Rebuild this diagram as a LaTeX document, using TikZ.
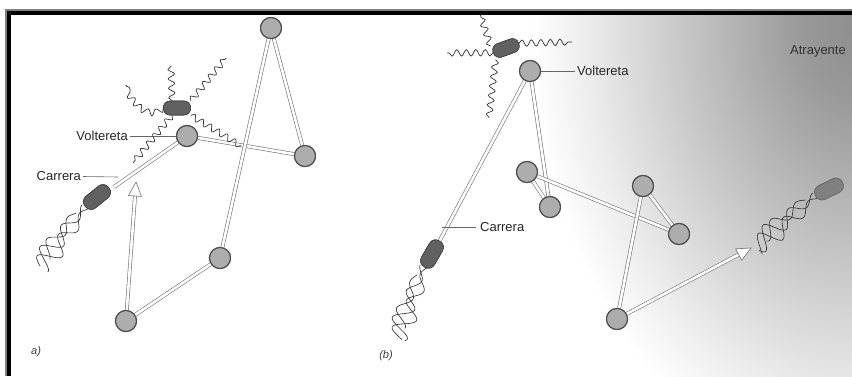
\documentclass[tikz,border=0pt]{standalone}
\usepackage{fontspec}
\setmainfont{Liberation Sans}
\usetikzlibrary{calc,decorations.pathmorphing}

% grey cloud of attractant, darkest at its source (edge of the shaded path = 25bp)
\pgfdeclareradialshading{attractant}{\pgfpoint{0bp}{0bp}}{%
  color(0bp)=(black!44); color(4bp)=(black!40); color(12bp)=(black!24);
  color(20bp)=(black!8); color(24.5bp)=(white); color(50bp)=(white)}

% twisted bundle of flagella: start x, start y, direction, length
\newcommand\flagbundle[4]{%
  \begin{scope}[shift={(#1,#2)}, rotate=#3]
    \draw[flag] plot[domain=0:#4, samples=90, smooth]
        (\x, {(3+0.12*\x)*sin(12*\x)-2});
    \draw[flag] plot[domain=0:#4, samples=90, smooth]
        (\x, {(3+0.12*\x)*sin(12*\x+110)+2.5});
    \draw[flag] plot[domain=10:{0.85*#4}, samples=70, smooth]
        (\x, {(2+0.1*\x)*sin(12*\x+230)+5});
  \end{scope}}

\begin{document}
\begin{tikzpicture}[x=1bp, y=-1bp,
  tube/.style={draw=black!55, line width=0.6bp, double=white, double distance=2.6bp},
  site/.style={circle, minimum size=21bp, inner sep=0pt, fill=black!32,
    draw=black!70, line width=1.1bp},
  body/.style={rectangle, rounded corners=6.5bp, minimum width=27bp,
    minimum height=14bp, inner sep=0pt, fill=black!62, draw=black!75, line width=0.6bp},
  runner/.style={body, minimum width=30bp, minimum height=15bp, rounded corners=7bp},
  wavy/.style={draw=black!80, line width=0.7bp, decorate,
    decoration={snake, amplitude=3.2bp, segment length=9.5bp}},
  flag/.style={draw=black!80, line width=0.65bp},
  lbl/.style={font=\fontsize{13bp}{15bp}\selectfont, text=black!85, inner sep=0pt},
  leader/.style={draw=black!60, line width=0.6bp},
  panel/.style={font=\fontsize{11bp}{13bp}\selectfont\itshape, text=black!75, inner sep=0pt},
  openhead/.style={draw=black!55, line width=0.6bp, fill=white, line join=miter}
]
\useasboundingbox (0,0) rectangle (852,376);
\fill[white] (0,0) rectangle (852,376);

% attractant gradient in panel (b)
\begin{scope}
  \clip (430,15) rectangle (852,376);
  \shade[shading=attractant] (855,25) ellipse [x radius=330bp, y radius=460bp];
\end{scope}

% frame
\draw[black!50, line width=2bp] (6,376) -- (6,10) -- (852,10);
\draw[black, line width=4bp] (9,376) -- (9,13) -- (852,13);

% ---------------- panel a: random walk ----------------
\coordinate (run1) at (114,187);
\coordinate (tipL) at (136,182);
\node[site] (A) at (271,28) {};
\node[site] (B) at (187,136) {};
\node[site] (C) at (305,156) {};
\node[site] (D) at (220,258) {};
\node[site] (E) at (126,321) {};
\coordinate (baseL) at ($(tipL)!14bp!(E)$);

\draw[tube] (run1) -- (B);
\draw[tube] (B) -- (C);
\draw[tube] (C) -- (A);
\draw[tube] (A) -- (D);
\draw[tube] (D) -- (E);
\draw[tube] (E) -- (baseL);
\draw[openhead] (tipL) -- ($(baseL)!6.5bp!90:(tipL)$) -- ($(baseL)!6.5bp!-90:(tipL)$) -- cycle;
\foreach \n in {A,B,C,D,E} \node[site] at (\n) {};

% labels of panel a
\node[lbl, anchor=east] (volt1) at (128,136) {Voltereta};
\draw[leader] (volt1.east) ++(2,0) -- (B.west);
\node[lbl, anchor=east] (carr1) at (81,176.5) {Carrera};
\coordinate (carrend1) at (118,177);
\draw[leader] (carr1.east) ++(2,0) -- (carrend1);

% tumbling cell of panel a
\node[body] (tb1) at (177,108) {};
\coordinate (t1a) at (126,85);
\coordinate (t1b) at (171,66);
\coordinate (t1c) at (226,58);
\coordinate (t1d) at (133,163);
\coordinate (t1e) at (241,146);
\draw[wavy] (tb1.west) .. controls (150,118) and (136,104) .. (t1a);
\draw[wavy] ($(tb1.north)+(-5,0)$) -- (t1b);
\draw[wavy] (tb1.north east) -- (t1c);
\draw[wavy] ($(tb1.south)+(-5,0)$) -- (t1d);
\draw[wavy] (tb1.south east) -- (t1e);
\node[body] at (tb1) {};

% running cell of panel a
\node[runner, rotate=39] (rb1) at (97,197) {};
\flagbundle{86}{208}{-128}{74}
\node[runner, rotate=39] at (rb1) {};

\node[panel, anchor=west] (la) at (31,352) {a)};

% ---------------- panel b: biased walk ----------------
\node[site] (V) at (530,71) {};
\node[site] (F) at (527,172) {};
\node[site] (G) at (550,207) {};
\node[site] (H) at (643,186) {};
\node[site] (I) at (679,234) {};
\node[site] (J) at (617,319) {};
\coordinate (tipR) at (751,248);
\coordinate (baseR) at ($(tipR)!14bp!(J)$);

\node[runner, rotate=60] (rb2) at (432,254) {};
\draw[tube] (rb2.east) -- (V);
\draw[tube] (V) -- (G);
\draw[tube] (G) -- (F);
\draw[tube] (F) -- (I);
\draw[tube] (I) -- (H);
\draw[tube] (H) -- (J);
\draw[tube] (J) -- (baseR);
\draw[openhead] (tipR) -- ($(baseR)!6.5bp!90:(tipR)$) -- ($(baseR)!6.5bp!-90:(tipR)$) -- cycle;
\foreach \n in {V,F,G,H,I,J} \node[site] at (\n) {};

% running cell at the start of the walk
\flagbundle{425}{267}{-111}{76}
\node[runner, rotate=60] at (rb2) {};

% tumbling cell of panel b
\node[body, rotate=20] (tb2) at (506,48) {};
\coordinate (t2a) at (480,14);
\coordinate (t2b) at (447,53);
\coordinate (t2c) at (489,118);
\coordinate (t2d) at (572,42);
\draw[wavy] (tb2.north west) -- (t2a);
\draw[wavy] (tb2.west) -- (t2b);
\draw[wavy] (tb2.south west) -- (t2c);
\draw[wavy] (tb2.east) -- (t2d);
\node[body, rotate=20] at (tb2) {};

% running cell near the attractant
\node[runner, rotate=26, fill=black!50, draw=black!60] (rb3) at (829,189) {};
\flagbundle{816}{197}{-140}{78}
\node[runner, rotate=26, fill=black!50, draw=black!60] at (rb3) {};

% labels of panel b
\node[lbl, anchor=west] (volt2) at (577,71) {Voltereta};
\draw[leader] (V.east) -- ($(volt2.west)+(-2,0)$);
\node[lbl, anchor=west] (carr2) at (480,227.5) {Carrera};
\coordinate (carrend2) at (442,227.5);
\draw[leader] (carrend2) -- ($(carr2.west)+(-4,0)$);
\node[lbl, anchor=base east, text=black!80] (attr) at (846,54) {Atrayente};
\node[panel] (lb) at (386,356) {(b)};
\end{tikzpicture}
\end{document}
